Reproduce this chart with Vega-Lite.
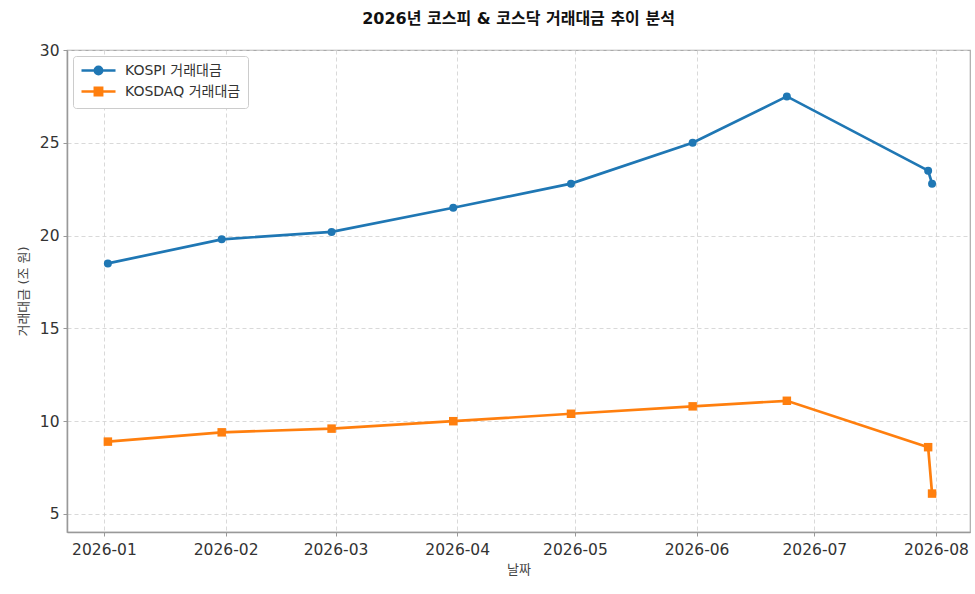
{
  "$schema": "https://vega.github.io/schema/vega-lite/v6.json",
  "width": 903,
  "height": 482,
  "autosize": "none",
  "padding": {"left": 67, "top": 50, "right": 5, "bottom": 62},
  "background": "white",
  "title": {
    "text": "2026년 코스피 & 코스닥 거래대금 추이 분석",
    "font": "DejaVu Sans, Noto Sans CJK KR",
    "fontSize": 16,
    "fontWeight": "bold",
    "color": "#111",
    "anchor": "middle",
    "offset": 16
  },
  "data": {
    "values": [
      {"date": "2026-01-02", "series": "KOSPI 거래대금", "value": 18.5},
      {"date": "2026-01-31", "series": "KOSPI 거래대금", "value": 19.8},
      {"date": "2026-02-28", "series": "KOSPI 거래대금", "value": 20.2},
      {"date": "2026-03-31", "series": "KOSPI 거래대금", "value": 21.5},
      {"date": "2026-04-30", "series": "KOSPI 거래대금", "value": 22.8},
      {"date": "2026-05-31", "series": "KOSPI 거래대금", "value": 25.0},
      {"date": "2026-06-24", "series": "KOSPI 거래대금", "value": 27.5},
      {"date": "2026-07-30", "series": "KOSPI 거래대금", "value": 23.5},
      {"date": "2026-07-31", "series": "KOSPI 거래대금", "value": 22.8},
      {"date": "2026-01-02", "series": "KOSDAQ 거래대금", "value": 8.9},
      {"date": "2026-01-31", "series": "KOSDAQ 거래대금", "value": 9.4},
      {"date": "2026-02-28", "series": "KOSDAQ 거래대금", "value": 9.6},
      {"date": "2026-03-31", "series": "KOSDAQ 거래대금", "value": 10.0},
      {"date": "2026-04-30", "series": "KOSDAQ 거래대금", "value": 10.4},
      {"date": "2026-05-31", "series": "KOSDAQ 거래대금", "value": 10.8},
      {"date": "2026-06-24", "series": "KOSDAQ 거래대금", "value": 11.1},
      {"date": "2026-07-30", "series": "KOSDAQ 거래대금", "value": 8.6},
      {"date": "2026-07-31", "series": "KOSDAQ 거래대금", "value": 6.1}
    ]
  },
  "resolve": {"scale": {"color": "independent"}, "legend": {"color": "independent"}},
  "layer": [
    {
      "encoding": {
        "x": {
          "field": "date",
          "type": "temporal",
          "title": "날짜",
          "scale": {
            "type": "utc",
            "domain": [
              {"year": 2025, "month": 12, "date": 22, "hours": 14, "utc": true},
              {"year": 2026, "month": 8, "date": 9, "hours": 16, "utc": true}
            ]
          },
          "axis": {"format": "%Y-%m", "tickCount": "month", "labelPadding": 6, "titlePadding": 6}
        },
        "y": {
          "field": "value",
          "type": "quantitative",
          "title": "거래대금 (조 원)",
          "scale": {"domain": [4.03, 30], "nice": false, "zero": false},
          "axis": {"values": [5, 10, 15, 20, 25, 30], "labelPadding": 4, "titlePadding": 9}
        },
        "color": {
          "field": "series",
          "type": "nominal",
          "scale": {"domain": ["KOSPI 거래대금", "KOSDAQ 거래대금"], "range": ["#1f77b4", "#ff7f0e"]},
          "legend": null
        }
      },
      "layer": [
        {"mark": {"type": "line", "strokeWidth": 2.7}},
        {
          "transform": [{"filter": "datum.series === 'KOSPI 거래대금'"}],
          "mark": {"type": "point", "shape": "circle", "filled": true, "size": 64, "opacity": 1}
        },
        {
          "transform": [{"filter": "datum.series === 'KOSDAQ 거래대금'"}],
          "mark": {"type": "point", "shape": "square", "filled": true, "size": 72, "opacity": 1}
        }
      ]
    },
    {
      "mark": {"type": "point", "filled": true, "opacity": 0},
      "encoding": {
        "color": {
          "field": "series",
          "type": "nominal",
          "scale": {"domain": ["KOSPI 거래대금", "KOSDAQ 거래대금"], "range": ["#1f77b4", "#ff7f0e"]},
          "legend": {
            "title": null,
            "orient": "top-left",
            "offset": 6,
            "padding": 7,
            "fillColor": "white",
            "strokeColor": "#cccccc",
            "cornerRadius": 3,
            "symbolSize": 144,
            "labelOffset": 30,
            "rowPadding": 2,
            "labelFont": "DejaVu Sans, Noto Sans CJK KR",
            "labelFontSize": 14,
            "labelColor": "#333",
            "symbolOpacity": 1,
            "symbolStrokeWidth": 2.7,
            "encode": {
              "symbols": {
                "update": {
                  "shape": [
                    {"test": "datum.value === 'KOSPI 거래대금'", "value": "M-1,0H4.67M1.23,0A0.6,0.6,0,1,0,2.43,0A0.6,0.6,0,1,0,1.23,0Z"},
                    {"value": "M-1,0H4.67M1.23,-0.6H2.43V0.6H1.23Z"}
                  ],
                  "stroke": [
                    {"test": "datum.value === 'KOSPI 거래대금'", "value": "#1f77b4"},
                    {"value": "#ff7f0e"}
                  ],
                  "opacity": {"value": 1}
                }
              }
            }
          }
        }
      }
    }
  ],
  "config": {
    "font": "DejaVu Sans, Noto Sans CJK KR",
    "view": {"stroke": "#aaaaaa", "strokeWidth": 1.2},
    "axis": {
      "labelFont": "DejaVu Sans",
      "labelFontSize": 15.5,
      "labelColor": "#333",
      "titleFont": "DejaVu Sans, Noto Sans CJK KR",
      "titleFontSize": 13,
      "titleFontWeight": "normal",
      "titleColor": "#444",
      "domainColor": "#999",
      "domainWidth": 1.5,
      "tickColor": "#999",
      "tickSize": 4,
      "gridColor": "#d0d0d0",
      "gridDash": [4, 3],
      "gridOpacity": 0.8,
      "labelFlush": false,
      "labelOverlap": false
    }
  }
}
